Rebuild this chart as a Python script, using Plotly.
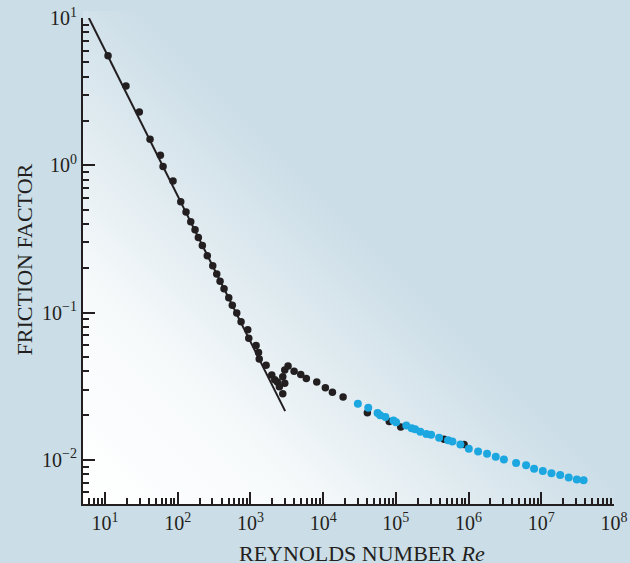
import base64
import plotly.graph_objects as go

# ---- data ----
laminar_re = [6.0, 3000]
laminar_f = [10.0, 0.0214]

black_re = [11.0, 19.4, 29.6, 41.6, 57.7, 62.8, 86.1, 110, 130, 151, 173, 192, 218, 255, 303,
            344, 382, 433, 503, 563, 648, 743, 918, 948, 1194, 1291, 1321, 1641, 1963, 2158,
            2344, 2500, 2782, 2963, 2782, 2963, 3289, 3981, 4920, 5866, 8166, 10720, 13400, 18800,
            40550, 81100, 116700, 460000, 867000]
black_f = [5.54, 3.45, 2.30, 1.50, 1.17, 0.98, 0.781, 0.565, 0.481, 0.413, 0.365, 0.323, 0.285, 0.243, 0.208,
           0.183, 0.163, 0.145, 0.126, 0.112, 0.0991, 0.0865, 0.0763, 0.0668, 0.0598, 0.0535, 0.0484, 0.0438, 0.0376, 0.0349,
           0.0338, 0.0314, 0.0281, 0.0331, 0.0367, 0.0408, 0.0434, 0.0400, 0.0379, 0.0357, 0.0338, 0.0308, 0.0288, 0.0267,
           0.0209, 0.0182, 0.0167, 0.0138, 0.0127]

blue_re = [30000, 41700, 56000, 60700, 71800, 92500, 100700, 139000, 165000, 184000, 217000, 263000,
           305000, 393000, 522000, 599000, 771000, 1007000, 1352000, 1796000, 2366000, 3060000,
           4500000, 6180000, 7960000, 10500000, 13800000, 18200000, 23800000, 30800000, 38200000]
blue_f = [0.0240, 0.0226, 0.0208, 0.0201, 0.0195, 0.0185, 0.0180, 0.0171, 0.0164, 0.0161, 0.0155, 0.0150,
          0.0148, 0.0141, 0.0136, 0.0133, 0.0127, 0.0119, 0.0114, 0.0110, 0.0105, 0.01005,
          0.00953, 0.00920, 0.00871, 0.00841, 0.00811, 0.00789, 0.00759, 0.00735, 0.00727]

x_tickvals = [10, 100, 1e3, 1e4, 1e5, 1e6, 1e7, 1e8]
x_ticktext = ["10<sup>1</sup>", "10<sup>2</sup>", "10<sup>3</sup>", "10<sup>4</sup>",
              "10<sup>5</sup>", "10<sup>6</sup>", "10<sup>7</sup>", "10<sup>8</sup>"]
y_tickvals = [10, 1, 0.1, 0.01]
y_ticktext = ["10<sup>1</sup>", "10<sup>0</sup>", "10<sup>\u22121</sup>", "10<sup>\u22122</sup>"]

INK = "#231f20"
BLUE = "#1ca7e1"
BG = "#cbdde7"
FONT = "Liberation Serif"

# gradient background for plot area
svg = ('<svg xmlns="http://www.w3.org/2000/svg" width="531" height="493" viewBox="0 0 531 493" '
       'preserveAspectRatio="none"><defs><linearGradient id="g" gradientUnits="userSpaceOnUse" '
       'x1="0" y1="493" x2="275.5" y2="217.5">'
       '<stop offset="0" stop-color="#ffffff"/><stop offset="0.40" stop-color="#f7fafb"/>'
       '<stop offset="0.68" stop-color="#e2ecf1"/><stop offset="1" stop-color="#cbdde7"/>'
       '</linearGradient></defs><rect width="531" height="493" fill="url(#g)"/></svg>')
src = "data:image/svg+xml;base64," + base64.b64encode(svg.encode()).decode()

fig = go.Figure()
fig.add_trace(go.Scatter(x=laminar_re, y=laminar_f, mode="lines",
                         line=dict(color=INK, width=2), showlegend=False, hoverinfo="skip"))
fig.add_trace(go.Scatter(x=black_re, y=black_f, mode="markers",
                         marker=dict(color=INK, size=7.5), showlegend=False))
fig.add_trace(go.Scatter(x=blue_re, y=blue_f, mode="markers",
                         marker=dict(color=BLUE, size=8), showlegend=False))

axis_common = dict(
    type="log", showgrid=False, zeroline=False, showline=True, linewidth=2, linecolor=INK,
    ticks="inside", ticklen=12, tickwidth=2, tickcolor=INK, mirror=False, automargin=False,
    tickfont=dict(family=FONT, size=20, color=INK),
    minor=dict(ticks="inside", ticklen=6, tickwidth=1.5, tickcolor=INK, dtick="D1", showgrid=False),
)

fig.update_xaxes(range=[0.697, 8.0], tickvals=x_tickvals, ticktext=x_ticktext, **axis_common)
fig.update_yaxes(range=[-2.30, 1.0], tickvals=y_tickvals, ticktext=y_ticktext, **axis_common)

fig.update_layout(
    width=630, height=563, autosize=False,
    margin=dict(l=83, r=16, t=18, b=59, pad=0),
    paper_bgcolor=BG, plot_bgcolor="rgba(0,0,0,0)",
    images=[dict(source=src, xref="paper", yref="paper", x=0, y=1 + 7 / 486,
                 sizex=1, sizey=493 / 486, xanchor="left", yanchor="top",
                 sizing="stretch", layer="below")],
    annotations=[
        dict(text="REYNOLDS NUMBER <i>Re</i>", xref="paper", yref="paper",
             x=(362 - 83) / 531, y=(504 - 553) / 486, xanchor="center", yanchor="middle",
             showarrow=False, font=dict(family=FONT, size=22, color=INK)),
        dict(text="FRICTION FACTOR", xref="paper", yref="paper", textangle=-90,
             x=(23.5 - 83) / 531, y=(504 - 260) / 486, xanchor="center", yanchor="middle",
             showarrow=False, font=dict(family=FONT, size=22, color=INK)),
    ],
)

fig.write_html("out.html", config={"displayModeBar": False},
               post_script="document.body.style.margin='0px';document.body.style.padding='0px';")
